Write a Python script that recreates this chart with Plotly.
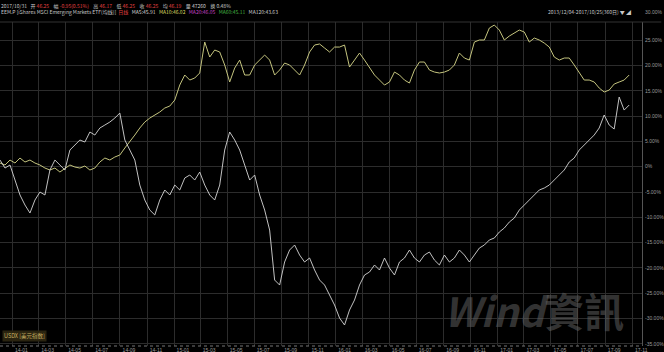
import pandas as pd
import plotly.graph_objects as go

# ---- data (cumulative return, %) ----
start_date = "2013-12-04"
end_date = "2017-10-25"

eem_pct = [1.32, -0.26, 0.34, -2.63, -5.59, -7.57, -9.15, -6.58, -5.0, -5.59,
           -0.65, 1.32, 0.34, -0.65, 3.30, 4.29, 5.28, 4.88, 6.86, 6.26,
           7.65, 8.24, 8.83, 9.62, 10.61, 5.28, 3.30, 1.32, -3.62, -6.58,
           -8.56, -9.54, -6.58, -4.60, -5.59, -3.62, -4.60, -2.23, -1.64, -2.63,
           -1.05, -3.62, -5.59, -6.58, -3.62, 3.30, 6.86, 5.28, 3.30, 0.34,
           -2.63, -1.64, -5.59, -8.56, -12.51, -22.39, -23.38, -18.83, -16.46, -15.47,
           -17.45, -18.83, -18.04, -20.41, -22.39, -23.38, -25.35, -27.33, -29.90, -31.28,
           -28.32, -26.34, -23.38, -21.40, -20.81, -19.42, -20.41, -18.04, -20.02, -21.40,
           -18.83, -18.04, -16.46, -18.04, -18.83, -17.45, -16.86, -18.44, -19.42, -17.45,
           -18.83, -18.04, -16.46, -17.45, -18.83, -17.45, -16.07, -15.47, -14.48, -14.09,
           -12.90, -12.11, -10.93, -10.14, -8.56, -7.57, -6.58, -5.79, -4.60, -4.21,
           -3.62, -2.63, -1.64, -0.65, 0.93, 1.72, 3.30, 4.29, 5.28, 6.26,
           7.65, 10.22, 8.24, 7.45, 13.77, 11.20, 12.19]

usdx_pct = [0.73, 0.34, 1.32, 0.73, 1.72, 0.93, 1.32, 0.73, 0.34, -0.26,
            -0.65, -0.26, -1.05, -0.26, 0.34, -0.06, -0.26, 0.14, -0.65, -0.26,
            0.93, 1.72, 1.32, 1.92, 2.31, 3.70, 4.88, 6.26, 7.65, 8.83,
            9.62, 10.22, 10.81, 11.60, 11.99, 13.18, 16.14, 18.12, 17.13, 17.53,
            18.52, 24.64, 21.68, 23.06, 22.67, 20.10, 16.74, 19.50, 21.08, 18.12,
            18.12, 20.10, 21.08, 22.07, 21.08, 18.12, 19.11, 20.49, 20.10, 19.11,
            18.12, 20.10, 22.67, 24.05, 24.25, 23.46, 22.67, 23.65, 23.65, 24.05,
            19.70, 21.08, 22.47, 21.08, 19.50, 18.12, 17.13, 16.14, 16.74, 18.71,
            18.12, 17.13, 16.54, 19.11, 20.69, 20.69, 19.11, 18.71, 18.52, 18.71,
            19.11, 20.10, 22.47, 21.48, 21.08, 24.64, 25.04, 25.04, 27.41, 28.00,
            27.01, 25.04, 25.83, 26.42, 27.01, 26.62, 24.64, 25.43, 25.04, 24.44,
            23.65, 21.68, 21.08, 21.48, 21.48, 20.10, 18.71, 17.13, 17.13, 16.74,
            15.55, 14.76, 15.15, 16.34, 16.74, 17.13, 18.12]

y_tick_vals = [-35, -30, -25, -20, -15, -10, -5, 0, 5, 10, 15, 20, 25]
y_tick_text = ["-35.00%", "-30.00%", "-25.00%", "-20.00%", "-15.00%", "-10.00%",
               "-5.00%", "0%", "5.00%", "10.00%", "15.00%", "20.00%", "25.00%"]

dates = pd.date_range(start_date, end_date, periods=len(eem_pct))

fig = go.Figure()
fig.add_trace(go.Scatter(x=dates, y=usdx_pct, mode="lines",
                         line=dict(color="#c4c47e", width=1), showlegend=False))
fig.add_trace(go.Scatter(x=dates, y=eem_pct, mode="lines",
                         line=dict(color="#d6d6d6", width=0.9), showlegend=False))

grid = "#2c2c2c"
tickfont = dict(size=5, color="#9a9a9a", family="Liberation Sans")
fig.update_layout(
    width=664, height=352,
    margin=dict(l=0, r=22, t=22, b=6),
    paper_bgcolor="#000000", plot_bgcolor="#000000",
    font=dict(family="Liberation Sans", color="#b0b0b0", size=5),
    showlegend=False,
)
fig.update_xaxes(
    type="date", range=["2013-12-04", "2017-11-23"],
    tick0="2014-01-01", dtick="M2", tickformat="%y-%m",
    showgrid=True, gridcolor=grid, gridwidth=1, zeroline=False,
    showline=False, ticks="", tickfont=tickfont,
    ticklabelshift=9, ticklabelstandoff=0, automargin=False,
)
fig.update_yaxes(
    side="right", range=[-35.43, 28.6],
    tickvals=y_tick_vals, ticktext=y_tick_text,
    showgrid=True, gridcolor=grid, gridwidth=1, zeroline=False,
    showline=True, linecolor="#555555", linewidth=1, ticks="",
    tickfont=tickfont, ticklabelstandoff=1, automargin=False,
)

# dotted bottom axis line
fig.add_shape(type="line", xref="paper", yref="paper", x0=0, x1=1, y0=0, y1=0,
              line=dict(color="#777777", width=1, dash="dot"))
# header separator line
fig.add_shape(type="line", xref="paper", yref="paper", x0=0, x1=1.03, y0=1.0, y1=1.0,
              line=dict(color="#333333", width=1))

def ann(x, y, text, color="#c8c8c8", size=5, xanchor="left", yanchor="middle", **kw):
    fig.add_annotation(x=x, y=y, xref="paper", yref="paper", text=text, showarrow=False,
                       xanchor=xanchor, yanchor=yanchor,
                       font=dict(size=size, color=color, family="Noto Sans CJK SC"), **kw)

# header row 1
row1 = ("2017/10/31   开 <span style='color:#e04040'>46.25</span>    "
        "幅 <span style='color:#e04040'>-0.95(0.51%)</span>    "
        "高 <span style='color:#e04040'>46.17</span>    "
        "低 <span style='color:#e04040'>46.25</span>    "
        "收 <span style='color:#e04040'>46.25</span>    "
        "均 <span style='color:#e04040'>46.19</span>    "
        "量 <span style='color:#d0d0d0'>47260</span>    "
        "换 0.48%")
ann(0.0, 1.066, row1, yanchor="top", borderpad=0)
row2 = ("EEM.P [iShares MSCI Emerging Markets ETF(均线)]  "
        "<span style='color:#e04040'>日线</span>   "
        "<span style='color:#d0d0d0'>MA5:45.91</span>   "
        "<span style='color:#d8d860'>MA10:46.02</span>   "
        "<span style='color:#c040c0'>MA20:46.05</span>   "
        "<span style='color:#40b040'>MA60:45.11</span>   "
        "<span style='color:#c8c8c8'>MA120:43.63</span>")
ann(0.0, 1.03, row2, borderpad=0)
ann(0.985, 1.03, "2013/12/04-2017/10/25(360日) ▼ ◢", xanchor="right", borderpad=0)
fig.add_annotation(x=1.003, y=1.03, xref="paper", yref="paper", text="30.00%",
                   showarrow=False, xanchor="left", yanchor="middle", font=tickfont,
                   borderpad=0)

# bottom-left series tag
fig.add_annotation(x=0.003, y=0.012, xref="paper", yref="paper", text="USDX [美元指数]",
                   showarrow=False, xanchor="left", yanchor="bottom",
                   font=dict(size=5.5, color="#c8b060", family="Noto Sans CJK SC"),
                   bgcolor="#2a2410", borderpad=1)

# watermark
fig.add_annotation(x=0.975, y=0.015, xref="paper", yref="paper",
                   text="<b><i>Wind</i>資訊</b>", showarrow=False,
                   xanchor="right", yanchor="bottom",
                   font=dict(size=40, color="rgba(95,95,95,0.55)", family="Noto Sans CJK TC"))

fig.write_html("out.html")
